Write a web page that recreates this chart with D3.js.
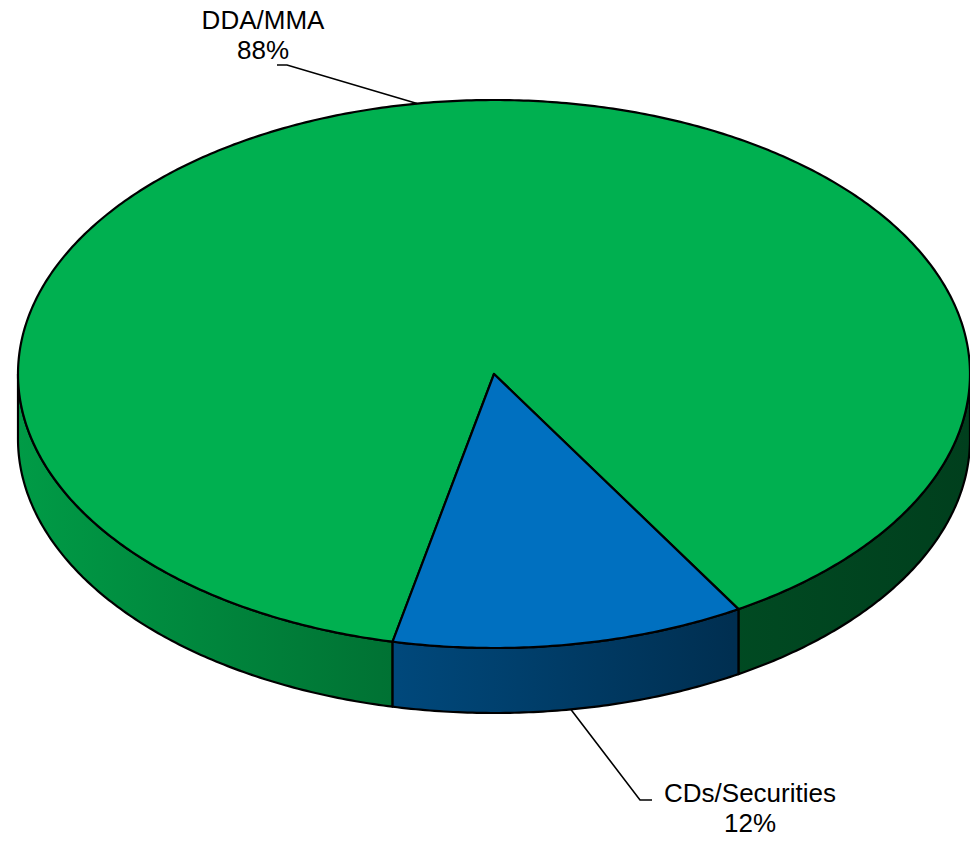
<!DOCTYPE html>
<html>
<head>
<meta charset="utf-8">
<script src="https://cdn.jsdelivr.net/npm/d3@7/dist/d3.min.js"></script>
<style>
  html, body { margin: 0; padding: 0; background: #fff; }
  svg { display: block; }
  text { font-family: "Liberation Sans", Arial, sans-serif; font-size: 26px; fill: #000; }
</style>
</head>
<body>
<div id="chart"></div>
<script>
'use strict';

// Data
var categories = ['DDA/MMA', 'CDs/Securities'],
    values = [88, 12],
    pctLabels = ['88%', '12%'],
    colors = ['#00b050', '#0070c0'];

var width = 970,
    height = 841,
    cx = 494,
    cy = 374,
    rx = 476,
    ry = 274,
    depth = 65,
    startDeg = -167.7;

var svg = d3.select('#chart').append('svg')
    .attr('width', width)
    .attr('height', height);

var defs = svg.append('defs');

// side shading: light on the left, dark on the right
var shade = [[0, 0.88], [0.4, 0.64], [0.75, 0.42], [1, 0.36]];
colors.forEach(function (c, i) {
    var base = d3.rgb(c);
    var g = defs.append('linearGradient')
        .attr('id', 'side' + i)
        .attr('gradientUnits', 'userSpaceOnUse')
        .attr('x1', cx - rx).attr('x2', cx + rx)
        .attr('y1', 0).attr('y2', 0);
    shade.forEach(function (s) {
        g.append('stop')
            .attr('offset', s[0])
            .attr('stop-color', d3.rgb(base.r * s[1], base.g * s[1], base.b * s[1]).formatHex());
    });
});

var pie = d3.pie()
    .sort(null)
    .startAngle(startDeg * Math.PI / 180)
    .endAngle(startDeg * Math.PI / 180 + 2 * Math.PI);

var arcs = pie(values);

function pt(a, dy) {
    return [cx + rx * Math.sin(a), cy - ry * Math.cos(a) + (dy || 0)];
}

function arcPoints(a0, a1, dy) {
    var n = Math.max(2, Math.ceil(Math.abs(a1 - a0) / 0.01)),
        pts = [];
    for (var k = 0; k <= n; k++) {
        pts.push(pt(a0 + (a1 - a0) * k / n, dy));
    }
    return pts;
}

var line = d3.line();

// outer walls, only the front half (pi/2 .. 3pi/2) is visible
var walls = svg.append('g');
arcs.forEach(function (d, i) {
    var segs = [];
    // check the front window in each turn
    [-2 * Math.PI, 0, 2 * Math.PI].forEach(function (off) {
        var lo = Math.max(d.startAngle, Math.PI / 2 + off),
            hi = Math.min(d.endAngle, 3 * Math.PI / 2 + off);
        if (hi > lo) { segs.push([lo, hi]); }
    });
    segs.forEach(function (s) {
        var pts = arcPoints(s[0], s[1], 0).concat(arcPoints(s[1], s[0], depth));
        walls.append('path')
            .attr('d', line(pts) + 'Z')
            .attr('fill', 'url(#side' + i + ')')
            .attr('stroke', '#000')
            .attr('stroke-width', 2.2)
            .attr('stroke-linejoin', 'round');
    });
});

// top faces
var tops = svg.append('g');
arcs.forEach(function (d, i) {
    var pts = [[cx, cy]].concat(arcPoints(d.startAngle, d.endAngle, 0));
    tops.append('path')
        .attr('d', line(pts) + 'Z')
        .attr('fill', colors[i])
        .attr('stroke', '#000')
        .attr('stroke-width', 2.2)
        .attr('stroke-linejoin', 'round');
});

// labels with leader lines
var labelPos = [
    { x: 263, y: 29, elbow: [[287, 65], [277, 65]], edge: 0 },
    { x: 750, y: 802, elbow: [[640, 800], [652, 800]], edge: depth }
];

var labels = svg.append('g');
arcs.forEach(function (d, i) {
    var mid = (d.startAngle + d.endAngle) / 2,
        lp = labelPos[i],
        anchor = pt(mid, lp.edge);
    labels.append('path')
        .attr('d', line([anchor].concat(lp.elbow)))
        .attr('fill', 'none')
        .attr('stroke', '#000')
        .attr('stroke-width', 1.6);
    var t = labels.append('text')
        .attr('x', lp.x)
        .attr('y', lp.y)
        .attr('text-anchor', 'middle');
    t.append('tspan').attr('x', lp.x).text(categories[i]);
    t.append('tspan').attr('x', lp.x).attr('dy', 30).text(pctLabels[i]);
});
</script>
</body>
</html>
